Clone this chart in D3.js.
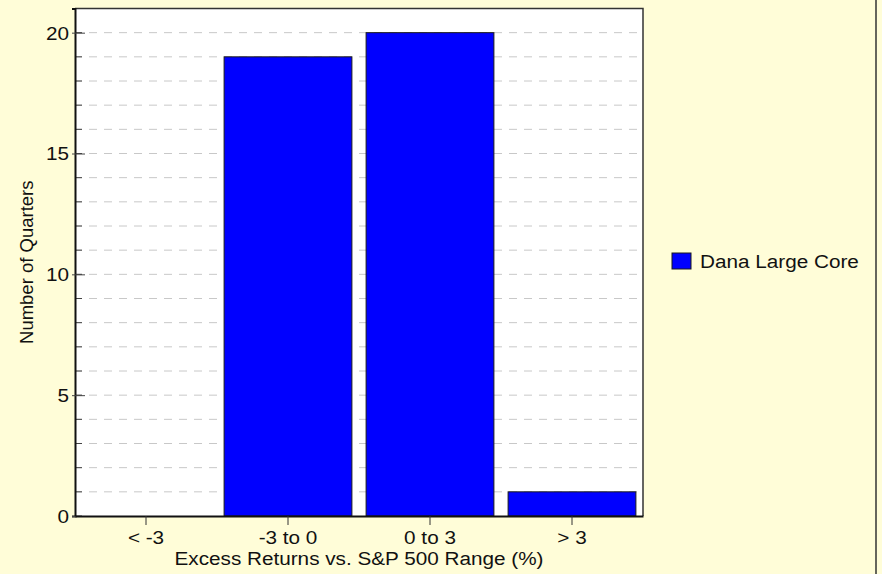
<!DOCTYPE html>
<html>
<head>
<meta charset="utf-8">
<script src="https://d3js.org/d3.v7.min.js"></script>
<style>
  body { margin: 0; background: #FFFDD8; }
  text { font-family: "Liberation Sans", Arial, sans-serif; fill: #111; }
</style>
</head>
<body>
  <div id="my_dataviz"></div>
  <script>
    // data
    var categories = ["< -3", "-3 to 0", "0 to 3", "> 3"];
    var values = [0, 19, 20, 1];
    var seriesName = "Dana Large Core";
    var yTicks = [0, 5, 10, 15, 20];
    var yMinorTicks = d3.range(0, 21, 1);
    var xTitle = "Excess Returns vs. S&P 500 Range (%)";
    var yTitle = "Number of Quarters";

    var W = 882, H = 574;
    var margin = {top: 8.5, right: 239, bottom: 58, left: 75};
    var width = W - margin.left - margin.right,
        height = H - margin.top - margin.bottom;
    var stretch = 1.15;

    var svg = d3.select("#my_dataviz")
      .append("svg")
      .attr("width", W)
      .attr("height", H);

    svg.append("rect")
      .attr("width", W).attr("height", H)
      .attr("fill", "#FFFDD8");

    // right edge of the outer frame
    svg.append("line")
      .attr("x1", W - 6).attr("x2", W - 6)
      .attr("y1", 0).attr("y2", H)
      .attr("stroke", "#333").attr("stroke-width", 1.5);

    var g = svg.append("g")
      .attr("transform", "translate(" + margin.left + "," + margin.top + ")");

    var x = d3.scaleBand()
      .domain(categories)
      .range([0, width])
      .paddingInner(0.1)
      .paddingOuter(0.05);

    var y = d3.scaleLinear()
      .domain([0, 21])
      .range([height, 0]);

    // plot background
    g.append("rect")
      .attr("width", width).attr("height", height)
      .attr("fill", "#fff");

    // dashed grid, one line per unit
    g.selectAll("line.grid")
      .data(yMinorTicks.filter(function(d) { return d > 0; }))
      .enter().append("line")
      .attr("class", "grid")
      .attr("x1", 0).attr("x2", width)
      .attr("y1", function(d) { return y(d); })
      .attr("y2", function(d) { return y(d); })
      .attr("stroke", "#c8c8c8")
      .attr("stroke-width", 1)
      .attr("stroke-dasharray", "8,7")
      .attr("stroke-dashoffset", 1);

    // bars
    g.selectAll("rect.bar")
      .data(values)
      .enter().append("rect")
      .attr("class", "bar")
      .filter(function(d) { return d > 0; })
      .attr("x", function(d) { return x(categories[values.indexOf(d)]); })
      .attr("y", function(d) { return y(d); })
      .attr("width", x.bandwidth())
      .attr("height", function(d) { return height - y(d); })
      .attr("fill", "#0000FF")
      .attr("stroke", "#1a1a1a")
      .attr("stroke-width", 1);

    // frame top/right
    g.append("path")
      .attr("d", "M0,0H" + width + "V" + height)
      .attr("fill", "none")
      .attr("stroke", "#333")
      .attr("stroke-width", 1.5);

    // minor ticks on y (inside)
    g.selectAll("line.minor")
      .data(yMinorTicks)
      .enter().append("line")
      .attr("x1", 0).attr("x2", 7)
      .attr("y1", function(d) { return y(d); })
      .attr("y2", function(d) { return y(d); })
      .attr("stroke", "#444");

    // y axis
    var yAxis = g.append("g")
      .call(d3.axisLeft(y).tickValues(yTicks).tickSize(3).tickPadding(3));
    yAxis.select(".domain").attr("stroke", "#111").attr("stroke-width", 2);
    yAxis.selectAll(".tick line").attr("stroke", "#444").attr("x2", 10).attr("x1", -3);
    yAxis.selectAll(".tick text")
      .attr("class", "stretch")
      .attr("font-size", 18)
      .attr("dy", "0.36em")
      .style("font-family", "Liberation Sans, Arial, sans-serif");

    // x axis
    var xAxis = g.append("g")
      .attr("transform", "translate(0," + height + ")")
      .call(d3.axisBottom(x).tickSize(9).tickSizeOuter(0).tickPadding(6));
    xAxis.select(".domain").attr("stroke", "#111").attr("stroke-width", 2);
    xAxis.selectAll(".tick line").attr("stroke", "#333");
    xAxis.selectAll(".tick text")
      .attr("class", "stretch")
      .attr("font-size", 18)
      .attr("dy", "0.72em")
      .style("font-family", "Liberation Sans, Arial, sans-serif");

    // axis titles
    g.append("text")
      .attr("class", "stretch")
      .attr("x", width / 2)
      .attr("y", height + 49)
      .attr("text-anchor", "middle")
      .attr("font-size", 18)
      .text(xTitle);

    g.append("text")
      .attr("transform", "translate(" + (33 - margin.left) + "," + (height / 2) + ") rotate(-90)")
      .attr("text-anchor", "middle")
      .attr("font-size", 18.5)
      .text(yTitle);

    // legend
    var legend = svg.append("g")
      .attr("transform", "translate(672,253)");
    legend.append("rect")
      .attr("width", 19).attr("height", 16)
      .attr("fill", "#0000FF")
      .attr("stroke", "#1a1a1a");
    legend.append("text")
      .attr("class", "stretch")
      .attr("x", 28)
      .attr("y", 15)
      .attr("font-size", 18)
      .text(seriesName);

    // the reference glyphs are drawn a bit wider than normal
    svg.selectAll("text.stretch").each(function() {
      var len = this.getComputedTextLength();
      d3.select(this)
        .attr("textLength", len * stretch)
        .attr("lengthAdjust", "spacingAndGlyphs");
    });
  </script>
</body>
</html>
